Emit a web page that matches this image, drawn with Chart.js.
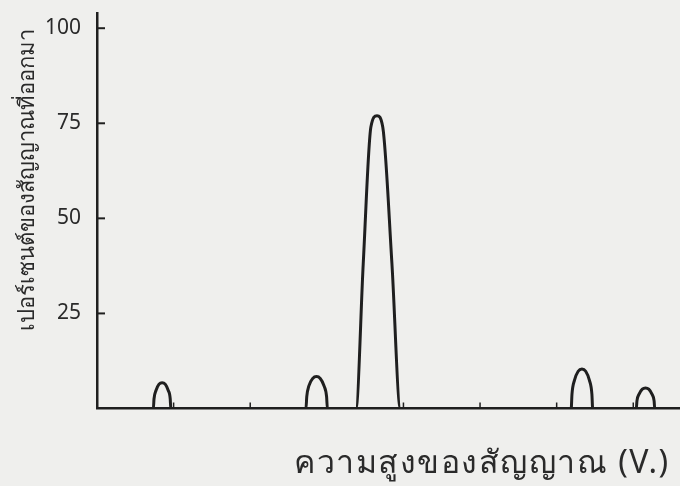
<!DOCTYPE html>
<html>
<head>
<meta charset="utf-8">
<script src="https://cdn.jsdelivr.net/npm/chart.js@4"></script>
<style>
  html, body { margin: 0; padding: 0; background: #efefed; }
  #contenedor { width: 680px; height: 486px; }
</style>
</head>
<body>
<div id="contenedor"><canvas id="grafico"></canvas></div>
<script>
// valores (x en unidades de marca, y en porciento)
const altura_senal = [0,
    0.736, 0.744, 0.771, 0.81, 0.85, 0.89, 0.929, 0.956, 0.963,
    2.728, 2.738, 2.767, 2.816, 2.865, 2.914, 2.963, 2.997, 3.007,
    3.38, 3.475, 3.575, 3.655, 3.73, 3.85, 3.96,
    6.19, 6.2, 6.232, 6.281, 6.33, 6.379, 6.428, 6.46, 6.47,
    7.04, 7.048, 7.076, 7.118, 7.16, 7.202, 7.244, 7.272, 7.28,
    7.61]
const porcentaje = [0,
    0, 2.5, 4.8, 6.4, 6.8, 6.4, 4.8, 2.5, 0,
    0, 3.1, 6.0, 7.9, 8.4, 7.9, 6.0, 3.1, 0,
    0, 38, 74, 77, 74, 38, 0,
    0, 3.8, 7.4, 9.8, 10.4, 9.8, 7.4, 3.8, 0,
    0, 2.0, 3.8, 5.1, 5.4, 5.1, 3.8, 2.0, 0,
    0]
const y_ticks = [25, 50, 75, 100]
const x_ticks = [1, 2, 3, 4, 5, 6, 7]

const titulo_x = "ความสูงของสัญญาณ (V.)"
const titulo_y = "เปอร์เซนต์ของสัญญาณที่ออกมา"

const color_tinta = "#1f1f1f"
const fuente = "'Noto Sans', 'DejaVu Sans', sans-serif"

const puntos = altura_senal.map((x, i) => ({ x: x, y: porcentaje[i] }))

// marcas hacia adentro y titulos de los ejes
const marcas_y_titulos = {
    id: "marcas_y_titulos",
    afterDraw(chart) {
        const ctx = chart.ctx
        const area = chart.chartArea
        const sx = chart.scales.x
        const sy = chart.scales.y
        ctx.save()
        ctx.strokeStyle = color_tinta
        ctx.lineWidth = 2
        for (const v of y_ticks) {
            const py = sy.getPixelForValue(v)
            ctx.beginPath()
            ctx.moveTo(area.left, py)
            ctx.lineTo(area.left + 8, py)
            ctx.stroke()
        }
        ctx.lineWidth = 1.5
        for (const v of x_ticks) {
            const px = sx.getPixelForValue(v)
            ctx.beginPath()
            ctx.moveTo(px, area.bottom)
            ctx.lineTo(px, area.bottom - 6)
            ctx.stroke()
        }

        ctx.fillStyle = "#2a2a2a"
        ctx.letterSpacing = "1.5px"
        ctx.font = "32px " + fuente
        ctx.textAlign = "center"
        ctx.textBaseline = "middle"
        ctx.fillText(titulo_x, 482, 464)

        ctx.letterSpacing = "0px"
        ctx.translate(28, 180)
        ctx.rotate(-Math.PI / 2)
        ctx.font = "500 22px " + fuente
        ctx.fillText(titulo_y, 0, 0)
        ctx.restore()
    }
}

new Chart(document.querySelector("#grafico"), {
    type: "line",
    data: {
        datasets: [{
            data: puntos,
            borderColor: color_tinta,
            borderWidth: 3,
            cubicInterpolationMode: "monotone",
            pointRadius: 0,
            fill: false
        }]
    },
    options: {
        responsive: true,
        maintainAspectRatio: false,
        animation: false,
        layout: { padding: { top: 13, right: 0, left: 0, bottom: 0 } },
        plugins: {
            legend: { display: false },
            tooltip: { enabled: false }
        },
        scales: {
            x: {
                type: "linear",
                min: 0,
                max: 7.61,
                grid: { display: false, drawTicks: false },
                border: { display: true, color: color_tinta, width: 2.5 },
                ticks: { display: false },
                afterFit(scale) {
                    scale.height = 77.5
                    scale.paddingLeft = 0
                    scale.paddingRight = 0
                }
            },
            y: {
                type: "linear",
                min: 0,
                max: 104,
                grid: { display: false, drawTicks: false },
                border: { display: true, color: color_tinta, width: 2.5 },
                afterBuildTicks(scale) { scale.ticks = y_ticks.map(v => ({ value: v })) },
                ticks: {
                    color: "#2a2a2a",
                    padding: 16,
                    font: { family: fuente, size: 21 }
                },
                afterFit(scale) {
                    scale.width = 97
                    scale.paddingTop = 0
                    scale.paddingBottom = 0
                }
            }
        }
    },
    plugins: [marcas_y_titulos]
})
</script>
</body>
</html>
